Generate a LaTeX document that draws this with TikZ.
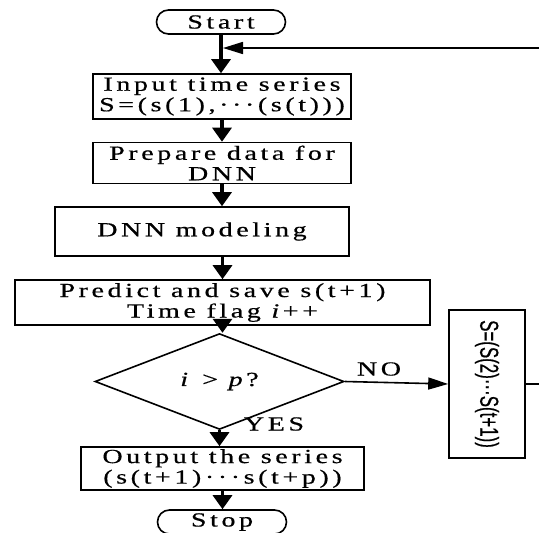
\documentclass[tikz,border=0pt]{standalone}
\usepackage{fontspec}
\setmainfont{Liberation Serif}[LetterSpace=18,FakeStretch=1.4,FakeBold=0.6]
\newfontfamily\sidefont{Liberation Sans}[FakeStretch=0.65,FakeBold=0.6]
\usetikzlibrary{arrows.meta,shapes.geometric}
\newcommand{\flowfont}{\fontsize{20}{20.5}\selectfont}
\newcommand{\cdotsthree}{\textperiodcentered\textperiodcentered\textperiodcentered}

\begin{document}
\begin{tikzpicture}[x=1pt,y=-1pt,
    box/.style={draw, line width=1.6pt, inner sep=0pt, align=center, font=\flowfont},
    term/.style={box, rounded corners=12pt, minimum width=129pt, minimum height=24pt},
    flow/.style={-{Triangle[width=19pt,length=14pt]}, line width=3.2pt},
    sideflow/.style={-{Triangle[width=12pt,length=20pt]}, line width=1.6pt}]
    \useasboundingbox (0,0) rectangle (539,533);

    % Start and stop
    \node[term] (start) at (221,22) {Start};
    \node[term] (stop) at (222,522) {Stop};

    % Process boxes
    \node[box, minimum width=258pt, minimum height=45pt] (input) at (222,96.5)
        {Input time series\\S=(s(1),\cdotsthree(s(t)))};
    \node[box, minimum width=258pt, minimum height=41pt] (prepare) at (222,163)
        {Prepare data for\\DNN};
    \node[box, minimum width=294pt, minimum height=49pt] (dnn) at (202,231.5)
        {DNN modeling};
    \node[box, minimum width=415pt, minimum height=45pt] (predict) at (222.5,302.5)
        {Predict and save s(t+1)\\Time flag \textit{i}++};

    % Decision
    \node[box, diamond, minimum width=249pt, minimum height=45pt] (check) at (219.5,381.5)
        {\textit{i} > \textit{p}?};

    % Output
    \node[box, minimum width=283pt, minimum height=43pt] (output) at (222.5,468.5)
        {Output the series\\(s(t+1)\cdotsthree s(t+p))};

    % Shift window
    \node[box, minimum width=76pt, minimum height=148pt] (shift) at (487,384) {};
    \node[rotate=-90, font=\sidefont\fontsize{26}{26}\selectfont] (shifttext) at (shift.center)
        {S=(S(2)\cdotsthree S(t+1))};

    % Main flow
    \draw[flow] (start.south) -- (start.south |- input.north);
    \draw[flow] (input.south) -- (input.south |- prepare.north);
    \draw[flow] (prepare.south) -- (prepare.south |- dnn.north);
    \draw[flow] (dnn.south -| predict.north) -- (predict.north);
    \draw[flow] (predict.south) -- (predict.south |- check.north);
    \draw[flow] (check.south) -- (check.south |- output.north);
    \draw[flow] (output.south) -- (output.south |- stop.north);

    % Loop back
    \coordinate (merge) at (223,48);
    \coordinate (loopR) at (560,48);
    \draw[sideflow] (check.east) -- (shift.west);
    \draw[sideflow] (shift.east) -| (loopR) -- (merge);

    % Labels
    \node[font=\flowfont] (no) at (379,369) {NO};
    \node[font=\flowfont] (yes) at (274,424) {YES};
\end{tikzpicture}
\end{document}
